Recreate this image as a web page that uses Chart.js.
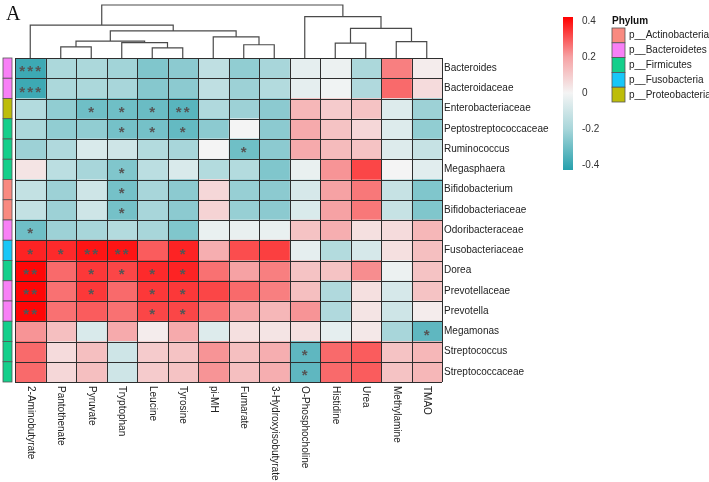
<!DOCTYPE html>
<html>
<head>
<meta charset="utf-8">
<script src="https://cdn.jsdelivr.net/npm/chart.js@4"></script>
<style>
  html, body { margin: 0; padding: 0; background: #fff; }
  #wrap { width: 709px; height: 482px; }
</style>
</head>
<body>
<div id="wrap"><canvas id="heat" width="709" height="482"></canvas></div>
<script>
const taxa = ['Bacteroides', 'Bacteroidaceae', 'Enterobacteriaceae', 'Peptostreptococcaceae', 'Ruminococcus',
    'Megasphaera', 'Bifidobacterium', 'Bifidobacteriaceae', 'Odoribacteraceae', 'Fusobacteriaceae', 'Dorea',
    'Prevotellaceae', 'Prevotella', 'Megamonas', 'Streptococcus', 'Streptococcaceae'];
const metabolites = ['2-Aminobutyrate', 'Pantothenate', 'Pyruvate', 'Tryptophan', 'Leucine', 'Tyrosine', 'pi-MH',
    'Fumarate', '3-Hydroxyisobutyrate', 'O-Phosphocholine', 'Histidine', 'Urea', 'Methylamine', 'TMAO'];

const phylumNames = ['p__Actinobacteria', 'p__Bacteroidetes', 'p__Firmicutes', 'p__Fusobacteria', 'p__Proteobacteria'];
const phylumColors = ['#F98A80', '#F880F6', '#14CF8B', '#18C7F8', '#BDBD0A'];
const taxaPhylum = [1, 1, 4, 2, 2, 2, 0, 0, 1, 3, 2, 1, 1, 2, 2, 2];

// spearman r, one row per taxon, columns in metabolite order
const corr = [
    [-0.39, -0.19, -0.19, -0.21, -0.27, -0.25, -0.14, -0.24, -0.20, -0.04, -0.02, -0.19, 0.25, 0.02],
    [-0.39, -0.19, -0.19, -0.20, -0.26, -0.25, -0.14, -0.22, -0.17, -0.04, -0.01, -0.18, 0.28, 0.06],
    [-0.17, -0.24, -0.30, -0.30, -0.31, -0.34, -0.18, -0.22, -0.25, 0.15, 0.10, 0.12, -0.06, -0.22],
    [-0.19, -0.24, -0.24, -0.29, -0.29, -0.32, -0.25, 0.00, -0.25, 0.18, 0.12, 0.07, -0.06, -0.24],
    [-0.22, -0.18, -0.07, -0.10, -0.17, -0.20, 0.00, -0.30, -0.25, 0.18, 0.14, 0.12, -0.06, -0.12],
    [0.04, -0.15, -0.20, -0.27, -0.15, -0.07, -0.17, -0.17, -0.27, -0.03, 0.22, 0.33, 0.00, -0.05],
    [-0.13, -0.22, -0.10, -0.29, -0.20, -0.25, 0.07, -0.23, -0.25, -0.08, 0.20, 0.26, -0.12, -0.27],
    [-0.13, -0.22, -0.10, -0.29, -0.20, -0.25, 0.08, -0.23, -0.25, -0.07, 0.20, 0.26, -0.12, -0.27],
    [-0.30, -0.22, -0.20, -0.17, -0.20, -0.27, -0.03, -0.03, -0.03, 0.12, 0.17, 0.05, 0.06, 0.15],
    [0.38, 0.37, 0.40, 0.40, 0.30, 0.38, 0.17, 0.32, 0.34, -0.04, -0.17, -0.08, 0.05, 0.13],
    [0.42, 0.28, 0.35, 0.33, 0.37, 0.38, 0.27, 0.20, 0.25, 0.12, 0.12, 0.23, -0.02, 0.12],
    [0.42, 0.27, 0.35, 0.28, 0.35, 0.35, 0.33, 0.28, 0.25, 0.13, -0.18, 0.05, -0.08, 0.12],
    [0.42, 0.27, 0.30, 0.27, 0.33, 0.33, 0.27, 0.20, 0.15, 0.22, -0.18, 0.04, -0.10, 0.02],
    [0.22, 0.13, -0.07, 0.18, 0.02, 0.18, -0.06, 0.05, 0.04, 0.05, -0.04, 0.03, -0.20, -0.33],
    [0.28, 0.06, 0.13, -0.10, 0.10, 0.12, 0.22, 0.13, 0.17, -0.33, 0.28, 0.30, 0.12, 0.15],
    [0.28, 0.07, 0.13, -0.10, 0.10, 0.12, 0.22, 0.13, 0.17, -0.33, 0.28, 0.30, 0.12, 0.15]
];

// [row, col, marks]
const sigMarks = [
    [0, 0, '***'], [1, 0, '***'],
    [2, 2, '*'], [2, 3, '*'], [2, 4, '*'], [2, 5, '**'],
    [3, 3, '*'], [3, 4, '*'], [3, 5, '*'],
    [4, 7, '*'], [5, 3, '*'], [6, 3, '*'], [7, 3, '*'], [8, 0, '*'],
    [9, 0, '*'], [9, 1, '*'], [9, 2, '**'], [9, 3, '**'], [9, 5, '*'],
    [10, 0, '**'], [10, 2, '*'], [10, 3, '*'], [10, 4, '*'], [10, 5, '*'],
    [11, 0, '**'], [11, 2, '*'], [11, 4, '*'], [11, 5, '*'],
    [12, 0, '**'], [12, 4, '*'], [12, 5, '*'],
    [13, 13, '*'], [14, 9, '*'], [15, 9, '*']
];

// column dendrogram: [left node, right node, height]; leaves are 0..13, merges numbered from 14
const colMerges = [
    [1, 2, 2.1], [4, 5, 1.9], [3, 15, 2.9], [14, 16, 3.2], [7, 8, 2.5], [6, 18, 4.0],
    [17, 19, 5.1], [0, 20, 6.2], [10, 11, 2.8], [12, 13, 3.1], [22, 23, 5.6], [9, 24, 7.8], [21, 25, 10]
];

const colorTicks = [0.4, 0.2, 0, -0.2, -0.4];

const colorStops = [
    [-0.43, [38, 160, 172]],
    [-0.2, [168, 214, 218]],
    [0, [244, 244, 244]],
    [0.2, [246, 162, 164]],
    [0.43, [255, 0, 0]]
];

function corrColor(v) {
    if (v <= colorStops[0][0]) return 'rgb(' + colorStops[0][1].join(',') + ')';
    for (let i = 1; i < colorStops.length; i++) {
        const [v1, c1] = colorStops[i];
        const [v0, c0] = colorStops[i - 1];
        if (v <= v1) {
            const t = (v - v0) / (v1 - v0);
            const c = c0.map((a, k) => Math.round(a + (c1[k] - a) * t));
            return 'rgb(' + c.join(',') + ')';
        }
    }
    return 'rgb(' + colorStops[colorStops.length - 1][1].join(',') + ')';
}

const FONT = '"Liberation Sans", Arial, sans-serif';
Chart.defaults.font.family = FONT;

const datasets = metabolites.map((m, c) => ({
    label: m,
    data: taxa.map(() => [c, c + 1]),
    backgroundColor: taxa.map((t, r) => corrColor(corr[r][c])),
    borderWidth: 0,
    barPercentage: 1,
    categoryPercentage: 1,
    grouped: false
}));

const extras = {
    id: 'extras',
    afterDatasetsDraw(chart) {
        const ctx = chart.ctx;
        const area = chart.chartArea;
        const xs = chart.scales.x;
        const rowH = (area.bottom - area.top) / taxa.length;
        ctx.save();

        // grid lines
        ctx.strokeStyle = '#2e2e2e';
        ctx.lineWidth = 1;
        ctx.beginPath();
        for (let c = 0; c <= metabolites.length; c++) {
            const x = Math.round(xs.getPixelForValue(c)) + 0.5;
            ctx.moveTo(x, area.top);
            ctx.lineTo(x, area.bottom);
        }
        for (let r = 0; r <= taxa.length; r++) {
            const y = Math.round(area.top + r * rowH) + 0.5;
            ctx.moveTo(area.left, y);
            ctx.lineTo(area.right, y);
        }
        ctx.stroke();

        // significance marks
        ctx.fillStyle = '#555';
        ctx.font = 'bold 15px ' + FONT;
        ctx.textAlign = 'center';
        ctx.textBaseline = 'middle';
        sigMarks.forEach(([r, c, s]) => {
            const x = xs.getPixelForValue(c + 0.5);
            const y = area.top + (r + 0.5) * rowH + 4;
            const step = 8;
            for (let i = 0; i < s.length; i++) {
                ctx.fillText('*', x + (i - (s.length - 1) / 2) * step, y);
            }
        });

        // phylum strip
        taxaPhylum.forEach((p, r) => {
            const y = area.top + r * rowH;
            ctx.fillStyle = phylumColors[p];
            ctx.fillRect(3, y, 9, rowH);
            ctx.strokeStyle = '#555';
            ctx.lineWidth = 0.8;
            ctx.strokeRect(3, y, 9, rowH);
        });

        // dendrogram
        const maxH = Math.max(...colMerges.map(m => m[2]));
        const hy = h => area.top - h * (area.top - 5) / maxH;
        const nodes = metabolites.map((m, i) => ({ x: xs.getPixelForValue(i + 0.5), y: area.top }));
        ctx.strokeStyle = '#4a4a4a';
        ctx.lineWidth = 1.2;
        ctx.beginPath();
        colMerges.forEach(([a, b, h]) => {
            const na = nodes[a], nb = nodes[b], y = hy(h);
            ctx.moveTo(na.x, na.y);
            ctx.lineTo(na.x, y);
            ctx.lineTo(nb.x, y);
            ctx.lineTo(nb.x, nb.y);
            nodes.push({ x: (na.x + nb.x) / 2, y });
        });
        ctx.stroke();

        // column labels, rotated
        ctx.fillStyle = '#222';
        ctx.font = '10px ' + FONT;
        ctx.textAlign = 'left';
        ctx.textBaseline = 'middle';
        metabolites.forEach((m, c) => {
            ctx.save();
            ctx.translate(xs.getPixelForValue(c + 0.5), area.bottom + 4);
            ctx.rotate(Math.PI / 2);
            ctx.fillText(m, 0, 0);
            ctx.restore();
        });

        // panel letter
        ctx.fillStyle = '#111';
        ctx.font = '20px "Liberation Serif", "Times New Roman", serif';
        ctx.textBaseline = 'alphabetic';
        ctx.fillText('A', 6, 20);

        // colour key
        const barTop = 17, barBot = 170, barX = 563, barW = 10;
        const vy = v => 93 - v * 180;
        const grad = ctx.createLinearGradient(0, barBot, 0, barTop);
        colorStops.forEach(([v, c]) => {
            const t = Math.min(1, Math.max(0, (vy(v) - barBot) / (barTop - barBot)));
            grad.addColorStop(t, 'rgb(' + c.join(',') + ')');
        });
        ctx.fillStyle = grad;
        ctx.fillRect(barX, barTop, barW, barBot - barTop);
        ctx.fillStyle = '#333';
        ctx.font = '10px ' + FONT;
        ctx.textBaseline = 'middle';
        colorTicks.forEach(v => ctx.fillText(String(v), barX + 19, vy(v)));

        // phylum legend
        ctx.fillStyle = '#111';
        ctx.font = 'bold 10px ' + FONT;
        ctx.fillText('Phylum', 612, 21);
        phylumNames.forEach((n, i) => {
            const y = 28 + i * 14.8;
            ctx.fillStyle = phylumColors[i];
            ctx.fillRect(612, y, 13, 14.8);
            ctx.strokeStyle = '#555';
            ctx.lineWidth = 0.8;
            ctx.strokeRect(612, y, 13, 14.8);
            ctx.fillStyle = '#222';
            ctx.font = '10px ' + FONT;
            ctx.fillText(n, 629, y + 7.6);
        });
        ctx.restore();
    }
};

new Chart(document.getElementById('heat'), {
    type: 'bar',
    data: { labels: taxa, datasets },
    options: {
        indexAxis: 'y',
        responsive: false,
        animation: false,
        layout: { padding: { left: 15, top: 58, right: 0, bottom: 100 } },
        plugins: { legend: { display: false }, tooltip: { enabled: false } },
        scales: {
            x: { type: 'linear', min: 0, max: metabolites.length, display: false },
            y: {
                position: 'right',
                grid: { display: false, drawTicks: false },
                border: { display: false },
                ticks: { color: '#222', font: { size: 10 }, padding: 2 },
                afterFit: s => { s.width = 709 - 442; }
            }
        }
    },
    plugins: [extras]
});
</script>
</body>
</html>
